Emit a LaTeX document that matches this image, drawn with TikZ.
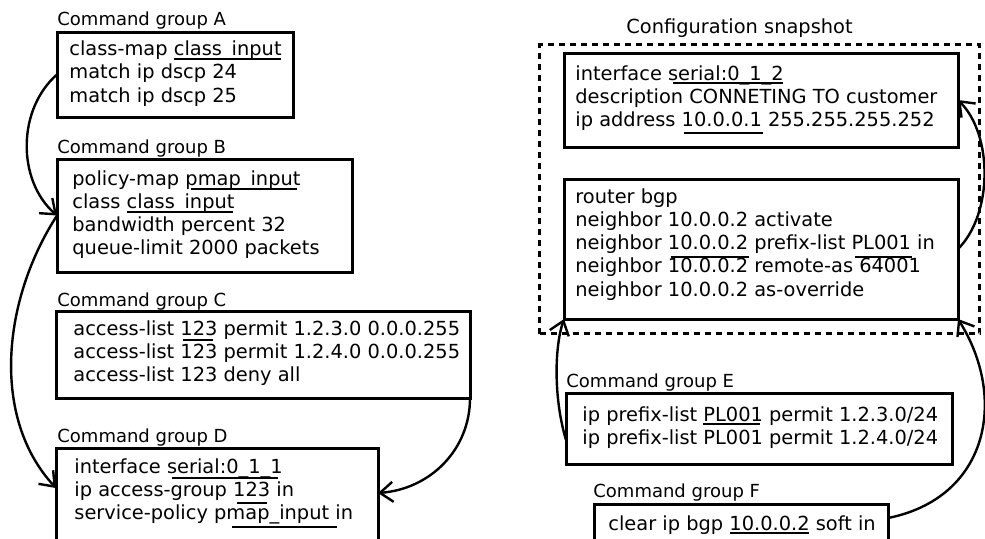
\documentclass[tikz,border=0pt]{standalone}
\usepackage{fontspec}
\setmainfont{DejaVu Sans}
\usetikzlibrary{arrows.meta}
\begin{document}
\begin{tikzpicture}[x=0.5pt, y=-0.5pt,
  box/.style={draw, line width=1.5pt, inner sep=0pt, outer sep=0pt, anchor=north west},
  snap/.style={draw, line width=1.5pt, dash pattern=on 3pt off 2.5pt, inner sep=0pt, anchor=north west},
  cmd/.style={font=\fontsize{9.7pt}{11.65pt}\selectfont, anchor=base west, inner sep=0pt},
  grp/.style={font=\fontsize{9pt}{11pt}\selectfont, anchor=base west, inner sep=0pt},
  ul/.style={line width=1.4pt},
  link/.style={line width=1.2pt, -{Straight Barb[length=6.5pt,width=10pt]}},
]
\useasboundingbox (0,0) rectangle (985,538);

% ---------- left column: command groups A-D ----------
\node[box, minimum width=118pt, minimum height=42.5pt] (A) at (57,32) {};
\node[box, minimum width=147.5pt, minimum height=56.5pt] (B) at (57,159) {};
\node[box, minimum width=207pt, minimum height=43.5pt] (C) at (56,311) {};
\node[box, minimum width=161pt, minimum height=55pt] (D) at (56,448) {};

\node[grp] (lblA) at (57,25) {Command group A};
\node[grp] (lblB) at (57,153) {Command group B};
\node[grp] (lblC) at (57,306) {Command group C};
\node[grp] (lblD) at (57,442) {Command group D};

\foreach \t [count=\i from 0] in {class-map class\_input, match ip dscp 24, match ip dscp 25}
  \node[cmd] (A-\i) at (69, 55.5+23.3*\i) {\t};
\foreach \t [count=\i from 0] in {policy-map pmap\_input, class class\_input, bandwidth percent 32, queue-limit 2000 packets}
  \node[cmd] (B-\i) at (72, 185+23.3*\i) {\t};
\foreach \t [count=\i from 0] in {access-list 123 permit 1.2.3.0 0.0.0.255, access-list 123 permit 1.2.4.0 0.0.0.255, access-list 123 deny all}
  \node[cmd] (C-\i) at (73, 335+23.3*\i) {\t};
\foreach \t [count=\i from 0] in {interface serial:0\_1\_1, ip access-group 123 in, service-policy pmap\_input in}
  \node[cmd] (D-\i) at (74, 473+23.3*\i) {\t};

% underlined identifiers
\draw[ul] (174,59) -- (281,59);
\draw[ul] (191,189) -- (297,189);
\draw[ul] (127,212) -- (233,212);
\draw[ul] (183,340) -- (213,340);
\draw[ul] (172,478) -- (278,478);
\draw[ul] (237,503) -- (267,503);
\draw[ul] (232,527) -- (337,527);

% ---------- right column: snapshot and groups E-F ----------
\node[snap, minimum width=220pt, minimum height=144.5pt] (S) at (538,43) {};
\node[font=\fontsize{9.7pt}{11.65pt}\selectfont, anchor=base west, inner sep=0pt] (lblS) at (626,33) {Configuration snapshot};

\node[box, minimum width=197pt, minimum height=47pt] (I) at (564,53) {};
\node[box, minimum width=197pt, minimum height=70pt] (R) at (564,179) {};
\node[box, minimum width=193pt, minimum height=35.5pt] (E) at (566,393) {};
\node[box, minimum width=147pt, minimum height=28pt] (F) at (594,504) {};

\node[grp] (lblE) at (566,387) {Command group E};
\node[grp] (lblF) at (593,497) {Command group F};

\foreach \t [count=\i from 0] in {interface serial:0\_1\_2, description CONNETING TO customer, ip address 10.0.0.1 255.255.255.252}
  \node[cmd] (I-\i) at (575, 80+23.3*\i) {\t};
\foreach \t [count=\i from 0] in {router bgp, neighbor 10.0.0.2 activate, neighbor 10.0.0.2 prefix-list PL001 in, neighbor 10.0.0.2 remote-as 64001, neighbor 10.0.0.2 as-override}
  \node[cmd] (R-\i) at (575, 203+23.3*\i) {\t};
\foreach \t [count=\i from 0] in {ip prefix-list PL001 permit 1.2.3.0/24, ip prefix-list PL001 permit 1.2.4.0/24}
  \node[cmd] (E-\i) at (582, 421+23.3*\i) {\t};
\node[cmd] (F-0) at (608,530) {clear ip bgp 10.0.0.2 soft in};

\draw[ul] (673,83) -- (783,83);
\draw[ul] (684,133) -- (763,133);
\draw[ul] (671,257) -- (749,257);
\draw[ul] (855,257) -- (912,257);
\draw[ul] (703,424) -- (760,424);
\draw[ul] (730,533) -- (809,533);

% ---------- dependency arrows ----------
\draw[link] (A.west) .. controls +(-40,35) and +(-40,-35) .. (B.west);
\draw[link] (B.west) .. controls +(-55,85) and +(-65,-70) .. ([yshift=-20pt]D.north west);
\draw[link] (C.south east) .. controls +(0,52) and +(52,-4) .. ([yshift=-22.5pt]D.north east);
\draw[link] (R.east) .. controls +(35,-35) and +(35,35) .. (I.east);
\draw[link] ([yshift=-5.75pt]E.west) .. controls +(-12,-40) and +(-10,30) .. (R.south west);
\draw[link] ([yshift=-7pt]F.north east) .. controls +(100,-20) and +(50,80) .. (R.south east);
\end{tikzpicture}
\end{document}
